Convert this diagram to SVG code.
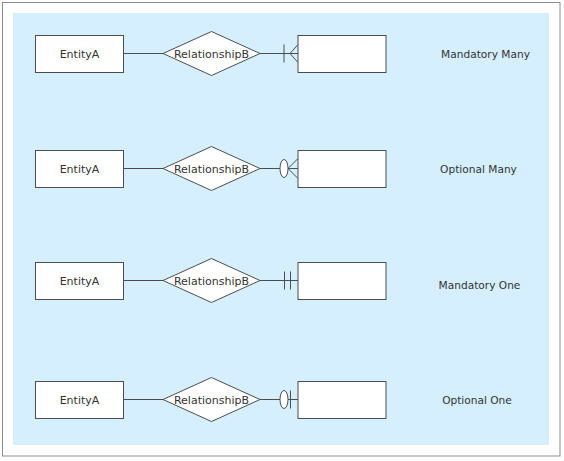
<svg xmlns="http://www.w3.org/2000/svg" width="564" height="461" viewBox="0 0 564 461">
<style>
.ent{fill:#fff;stroke:#4d4d4d;stroke-width:1}
.rel{fill:#fff;stroke:#4d4d4d;stroke-width:1}
.ln{fill:none;stroke:#4d4d4d;stroke-width:1}
.oval{fill:#fff;stroke:#4d4d4d;stroke-width:1}
text{font-family:"DejaVu Sans",Verdana,sans-serif;font-size:11px;fill:#333;text-anchor:middle;dominant-baseline:central}
.lbl{font-size:10.6px}
</style>
<rect x="0" y="0" width="564" height="461" fill="#fff"/>
<rect x="2.5" y="2.5" width="557.5" height="453.5" fill="#fff" stroke="#8c8c8c" stroke-width="1"/>
<rect x="13" y="13" width="536" height="432" fill="#d5efff"/>
<g id="connectors">
<path class="ln" d="M123,53.5H163M260,53.5H298"/>
<path class="ln" d="M284,44.5V62.5M290,53.5L298,44.5M290,53.5L298,62.5"/>
<path class="ln" d="M123,168.5H163M260,168.5H298"/>
<path class="ln" d="M288,168.5L298,158.5M288,168.5L298,178.5"/>
<ellipse class="oval" cx="284" cy="168.5" rx="4" ry="9"/>
<path class="ln" d="M123,280.5H163M260,280.5H298"/>
<path class="ln" d="M284.5,271.5V289.5M290.5,271.5V289.5"/>
<path class="ln" d="M123,399.5H163M260,399.5H298"/>
<path class="ln" d="M290.5,390.5V408.5"/>
<ellipse class="oval" cx="284" cy="399.5" rx="4" ry="9"/>
</g>
<g id="entityA1"><rect class="ent" x="35.5" y="35.5" width="88" height="37"/><text x="79.5" y="54">EntityA</text></g>
<g id="rel1"><polygon class="rel" points="163,53.5 211.5,31.5 260,53.5 211.5,75.5"/><text x="211.5" y="54">RelationshipB</text></g>
<g id="entityB1"><rect class="ent" x="298" y="35.5" width="88" height="37"/></g>
<g id="label1"><text class="lbl" x="485.5" y="54">Mandatory Many</text></g>
<g id="entityA2"><rect class="ent" x="35.5" y="150.5" width="88" height="37"/><text x="79.5" y="169">EntityA</text></g>
<g id="rel2"><polygon class="rel" points="163,168.5 211.5,146.5 260,168.5 211.5,190.5"/><text x="211.5" y="169">RelationshipB</text></g>
<g id="entityB2"><rect class="ent" x="298" y="150.5" width="88" height="37"/></g>
<g id="label2"><text class="lbl" x="478.5" y="169">Optional Many</text></g>
<g id="entityA3"><rect class="ent" x="35.5" y="262.5" width="88" height="37"/><text x="79.5" y="281">EntityA</text></g>
<g id="rel3"><polygon class="rel" points="163,280.5 211.5,258.5 260,280.5 211.5,302.5"/><text x="211.5" y="281">RelationshipB</text></g>
<g id="entityB3"><rect class="ent" x="298" y="262.5" width="88" height="37"/></g>
<g id="label3"><text class="lbl" x="479.5" y="285">Mandatory One</text></g>
<g id="entityA4"><rect class="ent" x="35.5" y="381.5" width="88" height="37"/><text x="79.5" y="400">EntityA</text></g>
<g id="rel4"><polygon class="rel" points="163,399.5 211.5,377.5 260,399.5 211.5,421.5"/><text x="211.5" y="400">RelationshipB</text></g>
<g id="entityB4"><rect class="ent" x="298" y="381.5" width="88" height="37"/></g>
<g id="label4"><text class="lbl" x="477" y="400">Optional One</text></g>
</svg>
